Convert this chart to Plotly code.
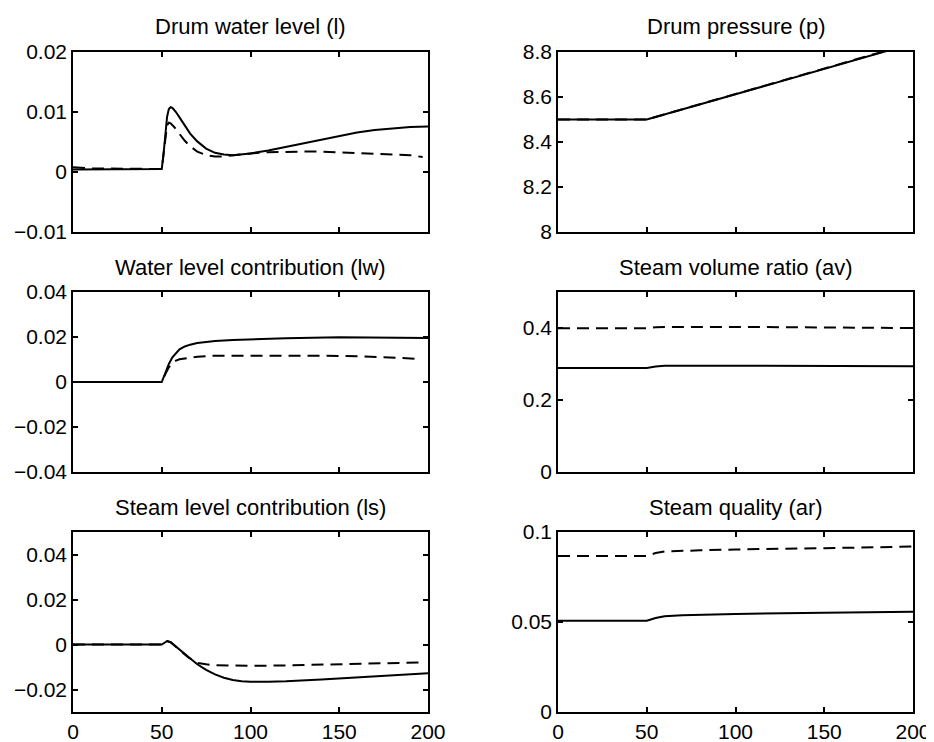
import plotly.graph_objects as go

# ---- data (time in s) ----
# Drum water level (l)
t_l_solid = [0, 50, 51, 52, 53, 54, 55, 56, 58, 60, 63, 66, 70, 75, 80, 85, 90,
             95, 100, 110, 120, 130, 140, 150, 160, 170, 180, 190, 200]
l_solid = [0.0004, 0.0005, 0.003, 0.0065, 0.0092, 0.0105, 0.0108, 0.0107, 0.0100,
           0.0091, 0.0078, 0.0064, 0.0051, 0.0039, 0.0032, 0.0029, 0.0028, 0.0029,
           0.0031, 0.0036, 0.0042, 0.0049, 0.0055, 0.0061, 0.0066, 0.0070, 0.0073,
           0.0075, 0.0076]
t_l_dash = [0, 10, 50, 51, 52, 53, 54, 55, 57, 60, 63, 66, 70, 75, 80, 85, 90,
            100, 110, 120, 130, 140, 150, 160, 170, 180, 190, 197]
l_dash = [0.0008, 0.0006, 0.0005, 0.003, 0.006, 0.0078, 0.0082, 0.0081, 0.0075,
          0.0063, 0.0052, 0.0043, 0.0034, 0.0028, 0.0026, 0.0026, 0.0028, 0.0031,
          0.0033, 0.0034, 0.0034, 0.0034, 0.0033, 0.0032, 0.0031, 0.0030, 0.0028,
          0.0025]

# Water level contribution (lw)
t_lw_solid = [0, 50, 52, 54, 56, 58, 60, 63, 66, 70, 75, 80, 90, 100, 120, 150,
              180, 200]
lw_solid = [0, 0, 0.004, 0.008, 0.011, 0.013, 0.0145, 0.0158, 0.0166, 0.0173,
            0.0178, 0.0182, 0.0187, 0.019, 0.0195, 0.0199, 0.0199, 0.0196]
t_lw_dash = [0, 50, 52, 54, 56, 58, 60, 65, 70, 80, 100, 120, 140, 160, 180, 195]
lw_dash = [0, 0, 0.0035, 0.0065, 0.0085, 0.0095, 0.0101, 0.0107, 0.0112, 0.0117,
           0.0118, 0.0118, 0.0117, 0.0115, 0.011, 0.0103]

# Steam level contribution (ls)
t_ls_solid = [0, 50, 52, 53, 55, 58, 60, 65, 70, 75, 80, 85, 90, 95, 100, 110,
              120, 140, 160, 180, 200]
ls_solid = [0, 0, 0.001, 0.0015, 0.001, -0.001, -0.0025, -0.0058, -0.0088,
            -0.0113, -0.0133, -0.0148, -0.0158, -0.0163, -0.0165, -0.0165,
            -0.0163, -0.0155, -0.0147, -0.0138, -0.0128]
t_ls_dash = [0, 50, 52, 53, 55, 58, 60, 65, 70, 72, 75, 80, 90, 100, 120, 140,
             160, 180, 195]
ls_dash = [0, 0, 0.001, 0.0015, 0.001, -0.001, -0.0025, -0.0058, -0.0082,
           -0.0085, -0.0088, -0.0092, -0.0095, -0.0095, -0.0093, -0.009,
           -0.0088, -0.0085, -0.008]

# Drum pressure (p)
t_p = [0, 50, 100, 150, 200]
p_solid = [8.5, 8.5, 8.612, 8.724, 8.838]
p_dash = [8.5, 8.5, 8.613, 8.727, 8.84]

# Steam volume ratio (av)
t_av = [0, 50, 55, 60, 100, 150, 200]
av_solid = [0.289, 0.289, 0.293, 0.295, 0.295, 0.294, 0.294]
av_dash = [0.399, 0.399, 0.402, 0.403, 0.403, 0.401, 0.400]

# Steam quality (ar)
t_ar_solid = [0, 50, 55, 60, 70, 80, 100, 150, 200]
ar_solid = [0.0507, 0.0507, 0.0522, 0.0532, 0.0538, 0.0541, 0.0545, 0.0551, 0.0557]
t_ar_dash = [0, 50, 55, 60, 80, 100, 150, 200]
ar_dash = [0.0867, 0.0867, 0.0883, 0.0892, 0.0898, 0.0903, 0.091, 0.0919]

titles = ['Drum water level (l)', 'Drum pressure (p)',
          'Water level contribution (lw)', 'Steam volume ratio (av)',
          'Steam level contribution (ls)', 'Steam quality (ar)']
x_ticks = [0, 50, 100, 150, 200]

# panel order: left/right per row
panels = [
    (t_l_solid, l_solid, t_l_dash, l_dash, [-0.01, 0.02], [-0.01, 0, 0.01, 0.02], ['−0.01', '0', '0.01', '0.02']),
    (t_p, p_solid, t_p, p_dash, [8, 8.8], [8, 8.2, 8.4, 8.6, 8.8], ['8', '8.2', '8.4', '8.6', '8.8']),
    (t_lw_solid, lw_solid, t_lw_dash, lw_dash, [-0.04, 0.04], [-0.04, -0.02, 0, 0.02, 0.04], ['−0.04', '−0.02', '0', '0.02', '0.04']),
    (t_av, av_solid, t_av, av_dash, [0, 0.5], [0, 0.2, 0.4], ['0', '0.2', '0.4']),
    (t_ls_solid, ls_solid, t_ls_dash, ls_dash, [-0.03, 0.05], [-0.02, 0, 0.02, 0.04], ['−0.02', '0', '0.02', '0.04']),
    (t_ar_solid, ar_solid, t_ar_dash, ar_dash, [0, 0.1], [0, 0.05, 0.1], ['0', '0.05', '0.1']),
]

W, H = 934, 742
OFF = 8  # page body margin pushes the figure by this many pixels
col_px = [(73, 428), (558, 913)]
row_px = [(52, 232), (292, 472), (532, 712)]

font = 'Liberation Sans, Arial, Helvetica, sans-serif'
fig = go.Figure()
layout = dict()
annotations = []

for i, (ts, ys, td, yd, yr, yt, ytl) in enumerate(panels):
    r, c = divmod(i, 2)
    n = '' if i == 0 else str(i + 1)
    xa, ya = 'x' + n, 'y' + n
    # dashed first, solid on top
    fig.add_trace(go.Scatter(x=td, y=yd, mode='lines', xaxis=xa, yaxis=ya,
                             line=dict(color='black', width=2, dash='12px,7px')))
    fig.add_trace(go.Scatter(x=ts, y=ys, mode='lines', xaxis=xa, yaxis=ya,
                             line=dict(color='black', width=2)))
    x0, x1 = [v - OFF for v in col_px[c]]
    y0, y1 = [v - OFF for v in row_px[r]]
    axis_common = dict(showline=True, linecolor='black', linewidth=1.5,
                       mirror='allticks', ticks='inside', ticklen=5,
                       tickcolor='black', tickwidth=1.5, showgrid=False,
                       zeroline=False, automargin=False,
                       tickfont=dict(size=21, color='black'))
    layout['xaxis' + n] = dict(axis_common, domain=[x0 / W, x1 / W],
                               range=[0, 200], tickvals=x_ticks,
                               showticklabels=(r == 2), anchor=ya)
    layout['yaxis' + n] = dict(axis_common, domain=[1 - y1 / H, 1 - y0 / H],
                               range=yr, tickvals=yt, ticktext=ytl, anchor=xa)
    annotations.append(dict(text=titles[i], xref='paper', yref='paper',
                            x=(x0 + x1) / 2 / W, y=1 - (y0 - 25) / H,
                            showarrow=False, xanchor='center', yanchor='middle',
                            font=dict(size=22, color='black')))

fig.update_layout(
    **layout,
    annotations=annotations,
    width=W, height=H,
    margin=dict(l=0, r=0, t=0, b=0),
    paper_bgcolor='white', plot_bgcolor='white',
    font=dict(family=font, color='black'),
    showlegend=False,
)
fig.write_html('out.html')
